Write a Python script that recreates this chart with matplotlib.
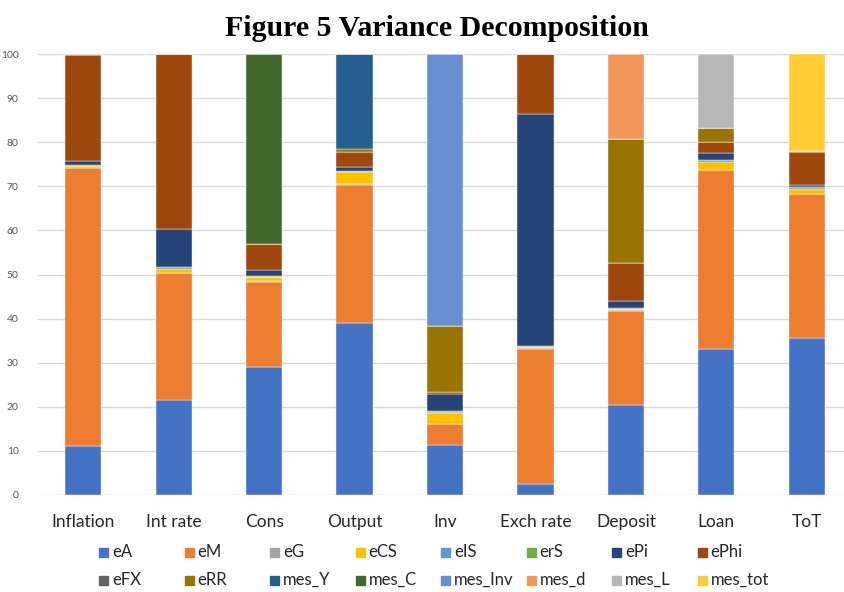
import matplotlib
matplotlib.use('Agg')
import matplotlib.pyplot as plt
from matplotlib.patches import Rectangle
import numpy as np

categories = ['Inflation', 'Int rate', 'Cons', 'Output', 'Inv', 'Exch rate', 'Deposit', 'Loan', 'ToT']
shocks = ['eA', 'eM', 'eG', 'eCS', 'eIS', 'erS', 'ePi', 'ePhi',
          'eFX', 'eRR', 'mes_Y', 'mes_C', 'mes_Inv', 'mes_d', 'mes_L', 'mes_tot']

# share of variance (%) per shock, one value per category
eA      = [11.2, 21.6, 29.0, 38.9, 11.4, 2.4, 20.3, 33.1, 35.7]
eM      = [62.9, 28.7, 19.4, 31.4, 4.6, 30.8, 21.5, 40.5, 32.5]
eG      = [0.1, 0.1, 0.1, 0.3, 0.2, 0.1, 0.1, 0.1, 0.1]
eCS     = [0.4, 0.8, 0.9, 2.7, 2.3, 0.3, 0.2, 1.7, 1.2]
eIS     = [0.1, 0.4, 0.1, 0.2, 0.3, 0.1, 0.1, 0.5, 0.3]
erS     = [0.05, 0.2, 0.05, 0.05, 0.3, 0.05, 0.2, 0.1, 0.1]
ePi     = [1.0, 8.6, 1.4, 0.8, 3.7, 52.7, 1.5, 1.5, 0.3]
ePhi    = [24.0, 39.5, 6.0, 3.4, 0.6, 13.55, 8.8, 2.5, 7.5]
eFX     = [0, 0, 0, 0, 0, 0, 0, 0, 0]
eRR     = [0.25, 0.1, 0, 0.6, 15.0, 0, 28.1, 3.3, 0.3]
mes_Y   = [0, 0, 0, 21.65, 0, 0, 0, 0, 0]
mes_C   = [0, 0, 43.05, 0, 0, 0, 0, 0, 0]
mes_Inv = [0, 0, 0, 0, 61.6, 0, 0, 0, 0]
mes_d   = [0, 0, 0, 0, 0, 0, 19.2, 0, 0]
mes_L   = [0, 0, 0, 0, 0, 0, 0, 16.7, 0]
mes_tot = [0, 0, 0, 0, 0, 0, 0, 0, 22.0]

series = [eA, eM, eG, eCS, eIS, erS, ePi, ePhi, eFX, eRR,
          mes_Y, mes_C, mes_Inv, mes_d, mes_L, mes_tot]
colors = ['#4472C4', '#ED7D31', '#A5A5A5', '#FFC000', '#5B9BD5', '#70AD47',
          '#264478', '#9E480E', '#636363', '#997300', '#255E91', '#43682B',
          '#698ED0', '#F1975A', '#B7B7B7', '#FFCD33']

plt.rcParams['font.family'] = ['Lato', 'DejaVu Sans']

W, H = 844, 592
fig = plt.figure(figsize=(W / 100, H / 100), dpi=100)
ax = fig.add_axes([38 / W, 97 / H, 814 / W, 441 / H])

x = np.arange(len(categories))
bottom = np.zeros(len(categories))
for name, vals, col in zip(shocks, series, colors):
    vals = np.array(vals, dtype=float)
    ax.bar(x, vals, 0.4, bottom=bottom, color=col, label=name,
           edgecolor='white', linewidth=0.3)
    bottom += vals

ax.set_xlim(-0.5, len(categories) - 0.5)
ax.set_ylim(0, 100)
ax.set_yticks(range(0, 101, 10))
ax.set_xticks(x)
ax.set_xticklabels(categories, fontsize=12.5, color='#262626')
ax.tick_params(axis='y', labelsize=7.5, colors='#595959', length=0, pad=14)
ax.tick_params(axis='x', length=0, pad=14)
ax.grid(axis='y', color='#D9D9D9', linewidth=1)
ax.set_axisbelow(True)
for s in ax.spines.values():
    s.set_visible(False)

fig.text(0.518, 0.952, 'Figure 5 Variance Decomposition', ha='center', va='center',
         fontsize=21.5, fontweight='bold', family='Liberation Serif')

# legend laid out row by row, 8 entries per row, equal column widths
for i, (name, col) in enumerate(zip(shocks, colors)):
    px = 99 + 85.5 * (i % 8)
    py = 552 + 28 * (i // 8)
    fig.patches.append(Rectangle((px / W, 1 - (py + 4.5) / H), 9 / W, 9 / H,
                                 transform=fig.transFigure, color=col))
    fig.text((px + 13) / W, 1 - py / H, name, ha='left', va='center',
             fontsize=12, color='#262626')

fig.savefig('out.png', dpi=100)
